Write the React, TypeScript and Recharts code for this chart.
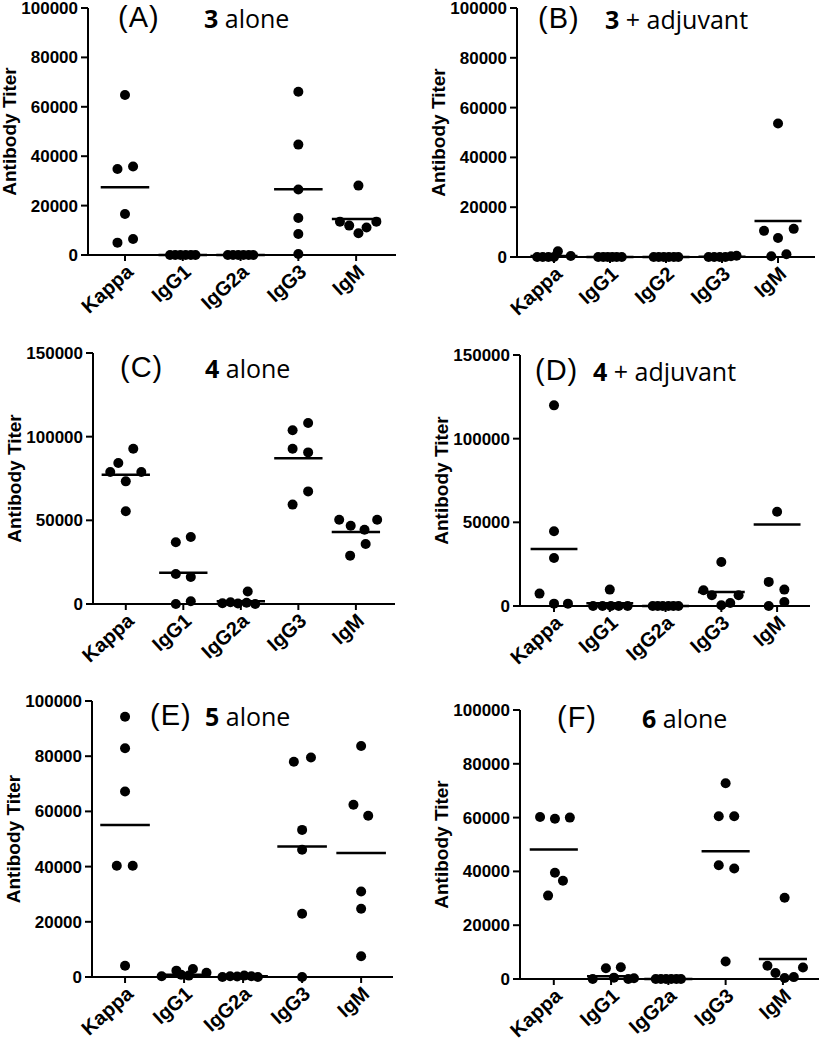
import React from 'react';
import { ScatterChart, Scatter, XAxis, YAxis, ReferenceLine, Label } from 'recharts';

const isotypes = ['Kappa', 'IgG1', 'IgG2a', 'IgG3', 'IgM'];
const isotypesB = ['Kappa', 'IgG1', 'IgG2', 'IgG3', 'IgM'];
const ticks100k = [0, 20000, 40000, 60000, 80000, 100000];
const ticks150k = [0, 50000, 100000, 150000];

// (A) 3 alone
const titersA = [
  [64800, 34800, 35800, 16600, 5000, 6500],
  [0, 0, 0, 0, 0, 0],
  [0, 0, 0, 0, 0, 0],
  [66100, 44700, 26500, 15000, 8500, 400],
  [28100, 13500, 11900, 8800, 11100, 13500],
];
const jitterA = [
  [0, -0.13, 0.14, 0, -0.13, 0.14],
  [-0.22, -0.13, -0.04, 0.05, 0.14, 0.22],
  [-0.22, -0.13, -0.04, 0.05, 0.14, 0.22],
  [0, 0, 0, 0, 0, 0],
  [0.04, -0.28, -0.12, 0.04, 0.18, 0.35],
];
const meansA = [27400, 0, 0, 26600, 14600];

// (B) 3 + adjuvant
const titersB = [
  [0, 0, 0, 0, 2300, 400],
  [0, 0, 0, 0, 0, 0],
  [0, 0, 0, 0, 0, 0],
  [0, 0, 0, 0, 300, 500],
  [10500, 11300, 7600, 300, 1100, 53600],
];
const jitterB = [
  [-0.3, -0.2, -0.1, 0, 0.07, 0.3],
  [-0.21, -0.12, -0.04, 0.04, 0.12, 0.21],
  [-0.22, -0.13, -0.04, 0.05, 0.14, 0.22],
  [-0.24, -0.14, -0.04, 0.06, 0.16, 0.26],
  [-0.25, 0.28, 0, -0.12, 0.15, 0],
];
const meansB = [400, 0, 0, 100, 14500];

// (C) 4 alone
const titersC = [
  [78900, 84300, 92800, 78900, 73300, 55400],
  [36900, 40000, 17900, 16100, 0, 1600],
  [500, 1000, 300, 7500, 800, 0],
  [103800, 108200, 92800, 90600, 67300, 59400],
  [50400, 46800, 44400, 50400, 35900, 28900],
];
const jitterC = [
  [-0.27, -0.13, 0.13, 0.27, 0, 0],
  [-0.13, 0.13, -0.13, 0.13, -0.13, 0.13],
  [-0.32, -0.18, -0.05, 0.12, 0.1, 0.25],
  [-0.1, 0.17, -0.1, 0.17, 0.17, -0.1],
  [-0.29, -0.09, 0.15, 0.37, 0.17, -0.1],
];
const meansC = [77300, 18700, 1600, 87100, 43000];

// (D) 4 + adjuvant
const titersD = [
  [119900, 44700, 28700, 7400, 1400, 1400],
  [0, 0, 9800, 0, 0, 0],
  [0, 0, 0, 0, 0, 0],
  [9400, 6400, 26300, 400, 1800, 6400],
  [56300, 14400, 9800, 0, 2400],
];
const jitterD = [
  [0, 0, 0, -0.26, 0, 0.25],
  [-0.3, -0.13, 0, 0.02, 0.16, 0.32],
  [-0.23, -0.14, -0.05, 0.05, 0.14, 0.23],
  [-0.32, -0.17, 0, 0, 0.16, 0.31],
  [0, -0.15, 0.13, -0.15, 0.13],
];
const meansD = [34100, 1600, 0, 8400, 48700];

// (E) 5 alone
const titersE = [
  [94300, 82900, 67200, 40300, 40300, 4100],
  [300, 2300, 800, 500, 2900, 1500],
  [0, 300, 200, 500, 300, 0],
  [78000, 79500, 53300, 46100, 22900, 0],
  [83700, 62400, 58400, 31000, 24700, 7500],
];
const jitterE = [
  [0, 0, 0, -0.14, 0.13, 0],
  [-0.38, -0.13, -0.05, 0.08, 0.15, 0.38],
  [-0.35, -0.22, -0.1, 0.02, 0.14, 0.25],
  [-0.14, 0.15, 0, 0, 0, 0],
  [0, -0.13, 0.12, 0, 0, 0],
];
const meansE = [55100, 800, 300, 47300, 44900];

// (F) 6 alone
const titersF = [
  [60200, 59600, 60000, 39500, 36500, 31000],
  [0, 4000, 500, 4400, 0, 300],
  [0, 0, 0, 0, 0, 0],
  [72800, 60500, 60500, 42300, 41100, 6500],
  [30200, 4900, 2200, 400, 700, 4300],
];
const jitterF = [
  [-0.24, 0.02, 0.28, 0.02, 0.16, -0.1],
  [-0.32, -0.09, 0.05, 0.17, 0.3, 0.4],
  [-0.22, -0.13, -0.04, 0.05, 0.14, 0.22],
  [0, -0.12, 0.15, -0.12, 0.15, 0],
  [0.03, -0.27, -0.13, 0.03, 0.19, 0.35],
];
const meansF = [48100, 1000, 0, 47500, 7400];

const AXIS_FONT = '"Liberation Sans", Arial, sans-serif';
const TITLE_FONT = '"Open Sans", "Noto Sans", sans-serif';

type PanelProps = {
  names: string[];
  titers: number[][];
  jitter: number[][];
  means: number[];
  yMax: number;
  yTicks: number[];
  col: number;
  axisX: number;
  top: number;
  zero: number;
  right: number;
  xLo: number;
  xHi: number;
};

const Dot = (props: any) => <circle cx={props.cx} cy={props.cy} r={5} fill="#000" />;

function Panel(p: PanelProps) {
  const points = p.titers.flatMap((vals, ci) =>
    vals.map((v, k) => ({ x: ci + p.jitter[ci][k], y: v }))
  );
  const marginTop = 12;
  const xAxisH = 74;
  const width = p.right + 1 - p.col;
  const height = p.zero - p.top + marginTop + xAxisH;
  const yAxisW = p.axisX - p.col;

  return (
    <div style={{ position: 'absolute', left: p.col, top: p.top - marginTop }}>
      <ScatterChart width={width} height={height} margin={{ top: marginTop, right: 1, bottom: 0, left: 0 }}>
        <XAxis
          type="number"
          dataKey="x"
          domain={[p.xLo, p.xHi]}
          ticks={[0, 1, 2, 3, 4]}
          interval={0}
          allowDataOverflow
          height={xAxisH}
          tickSize={6}
          axisLine={{ stroke: '#000', strokeWidth: 2 }}
          tickLine={{ stroke: '#000', strokeWidth: 2 }}
          tickFormatter={(v: number) => p.names[v]}
          tick={{
            angle: -42,
            textAnchor: 'end',
            dx: 0,
            dy: 0,
            fontFamily: AXIS_FONT,
            fontWeight: 700,
            fontSize: 20,
            fill: '#000',
          }}
        />
        <YAxis
          type="number"
          dataKey="y"
          domain={[0, p.yMax]}
          ticks={p.yTicks}
          interval={0}
          width={yAxisW}
          tickSize={7}
          tickMargin={3}
          axisLine={{ stroke: '#000', strokeWidth: 2 }}
          tickLine={{ stroke: '#000', strokeWidth: 2 }}
          tick={{ fontFamily: AXIS_FONT, fontWeight: 700, fontSize: 17, fill: '#000' }}
        >
          <Label
            content={(lp: any) => {
              const vb = lp.viewBox || {};
              const lx = (vb.x ?? 0) + (vb.width ?? yAxisW) - 72;
              const ly = (vb.y ?? 0) + (vb.height ?? 0) / 2;
              return (
                <text
                  x={lx}
                  y={ly}
                  transform={`rotate(-90 ${lx} ${ly})`}
                  textAnchor="middle"
                  fontFamily={AXIS_FONT}
                  fontWeight={700}
                  fontSize={19}
                  fill="#000"
                >
                  Antibody Titer
                </text>
              );
            }}
          />
        </YAxis>
        {p.means.map((m, i) => (
          <ReferenceLine
            key={i}
            segment={[{ x: i - 0.42, y: m }, { x: i + 0.42, y: m }]}
            stroke="#000"
            strokeWidth={2.5}
          />
        ))}
        <Scatter data={points} shape={Dot} isAnimationActive={false} />
      </ScatterChart>
    </div>
  );
}

function Title({ letter, num, rest, letterX, numX, baseline }: any) {
  return (
    <>
      <div
        style={{
          position: 'absolute', left: letterX, top: baseline - 24, fontFamily: AXIS_FONT,
          fontSize: 29, lineHeight: '29px', letterSpacing: 1, color: '#000', whiteSpace: 'nowrap',
        }}
      >
        {letter}
      </div>
      <div
        style={{
          position: 'absolute', left: numX, top: baseline - 21, fontFamily: TITLE_FONT,
          fontSize: 25, lineHeight: '25px', color: '#000', whiteSpace: 'nowrap',
        }}
      >
        <b>{num}</b> {rest}
      </div>
    </>
  );
}

export default function App() {
  return (
    <div style={{ position: 'absolute', left: 0, top: 0, width: 821, height: 1050, overflow: 'hidden', background: '#fff' }}>
      <Panel names={isotypes} titers={titersA} jitter={jitterA} means={meansA} yMax={100000} yTicks={ticks100k}
        col={0} axisX={88} top={8} zero={255} right={396} xLo={-0.64} xHi={4.69} />
      <Panel names={isotypesB} titers={titersB} jitter={jitterB} means={meansB} yMax={100000} yTicks={ticks100k}
        col={410} axisX={517} top={8} zero={257} right={815} xLo={-0.66} xHi={4.66} />
      <Panel names={isotypes} titers={titersC} jitter={jitterC} means={meansC} yMax={150000} yTicks={ticks150k}
        col={0} axisX={93} top={353} zero={604} right={395} xLo={-0.57} xHi={4.68} />
      <Panel names={isotypes} titers={titersD} jitter={jitterD} means={meansD} yMax={150000} yTicks={ticks150k}
        col={410} axisX={520} top={355} zero={606} right={810} xLo={-0.61} xHi={4.59} />
      <Panel names={isotypes} titers={titersE} jitter={jitterE} means={meansE} yMax={100000} yTicks={ticks100k}
        col={0} axisX={92} top={701} zero={977} right={393} xLo={-0.56} xHi={4.54} />
      <Panel names={isotypes} titers={titersF} jitter={jitterF} means={meansF} yMax={100000} yTicks={ticks100k}
        col={410} axisX={520} top={710} zero={979} right={819} xLo={-0.59} xHi={4.63} />

      <Title letter="(A)" num="3" rest="alone" letterX={118} numX={204} baseline={27} />
      <Title letter="(B)" num="3" rest="+ adjuvant" letterX={538} numX={605} baseline={28} />
      <Title letter="(C)" num="4" rest="alone" letterX={120} numX={205} baseline={377} />
      <Title letter="(D)" num="4" rest="+ adjuvant" letterX={535} numX={593} baseline={380} />
      <Title letter="(E)" num="5" rest="alone" letterX={150} numX={205} baseline={725} />
      <Title letter="(F)" num="6" rest="alone" letterX={557} numX={642} baseline={727} />
    </div>
  );
}
